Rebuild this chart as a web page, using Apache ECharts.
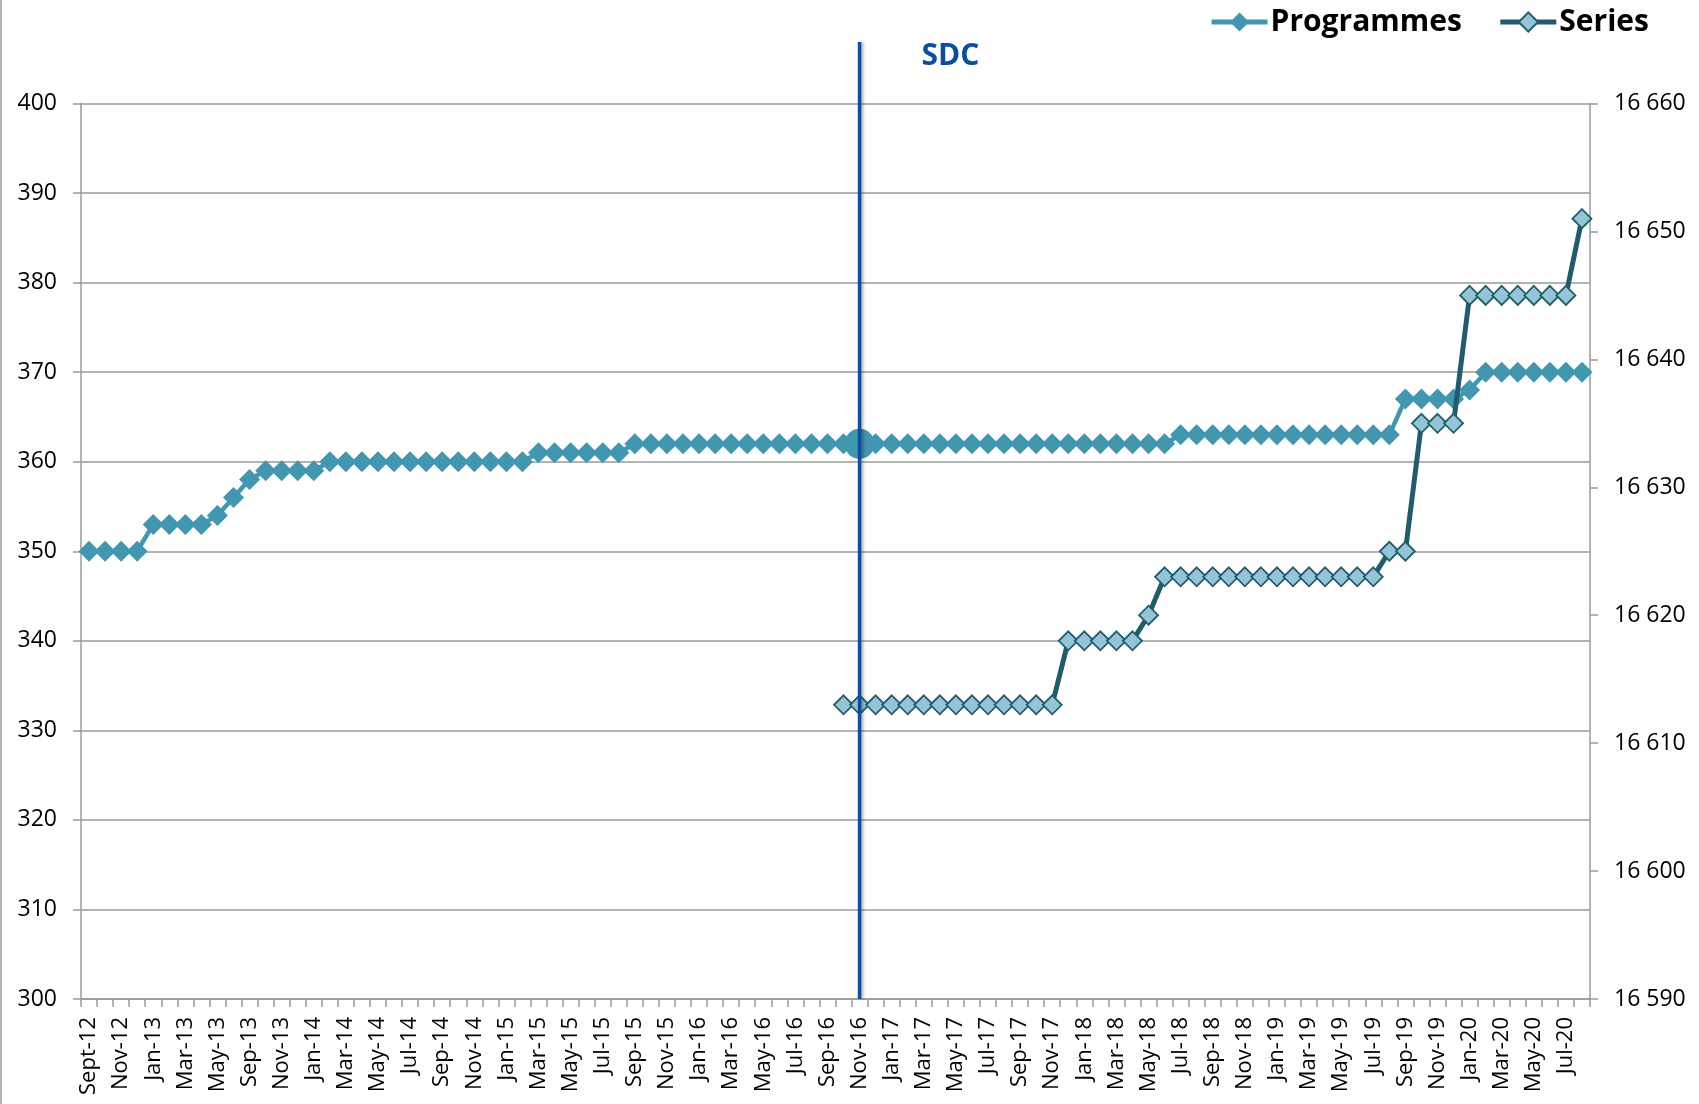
<!DOCTYPE html>
<html>
<head>
<meta charset="utf-8">
<title>Programmes / Series</title>
<script src="https://cdn.jsdelivr.net/npm/echarts@6/dist/echarts.min.js"></script>
<style>
  html, body { margin: 0; padding: 0; background: #fff; }
  #chart { width: 1699px; height: 1104px; }
</style>
</head>
<body>
<div id="chart"></div>
<script>
// categories (one month is missing in mid 2013)
const categories = [
  'Sept-12', 'Oct-12', 'Nov-12', 'Dec-12',
  'Jan-13', 'Feb-13', 'Mar-13', 'Apr-13', 'May-13', 'Jul-13', 'Sep-13', 'Oct-13', 'Nov-13', 'Dec-13',
  'Jan-14', 'Feb-14', 'Mar-14', 'Apr-14', 'May-14', 'Jun-14', 'Jul-14', 'Aug-14', 'Sep-14', 'Oct-14', 'Nov-14', 'Dec-14',
  'Jan-15', 'Feb-15', 'Mar-15', 'Apr-15', 'May-15', 'Jun-15', 'Jul-15', 'Aug-15', 'Sep-15', 'Oct-15', 'Nov-15', 'Dec-15',
  'Jan-16', 'Feb-16', 'Mar-16', 'Apr-16', 'May-16', 'Jun-16', 'Jul-16', 'Aug-16', 'Sep-16', 'Oct-16', 'Nov-16', 'Dec-16',
  'Jan-17', 'Feb-17', 'Mar-17', 'Apr-17', 'May-17', 'Jun-17', 'Jul-17', 'Aug-17', 'Sep-17', 'Oct-17', 'Nov-17', 'Dec-17',
  'Jan-18', 'Feb-18', 'Mar-18', 'Apr-18', 'May-18', 'Jun-18', 'Jul-18', 'Aug-18', 'Sep-18', 'Oct-18', 'Nov-18', 'Dec-18',
  'Jan-19', 'Feb-19', 'Mar-19', 'Apr-19', 'May-19', 'Jun-19', 'Jul-19', 'Aug-19', 'Sep-19', 'Oct-19', 'Nov-19', 'Dec-19',
  'Jan-20', 'Feb-20', 'Mar-20', 'Apr-20', 'May-20', 'Jun-20', 'Jul-20', 'Aug-20'
];

// Programmes (left axis), one value per category
const programmes = [
  350, 350, 350, 350, 353, 353, 353, 353, 354, 356, 358, 359, 359, 359, 359,
  360, 360, 360, 360, 360, 360, 360, 360, 360, 360, 360, 360, 360,
  361, 361, 361, 361, 361, 361,
  362, 362, 362, 362, 362, 362, 362, 362, 362, 362,
  362, 362, 362, 362, 362, 362, 362, 362, 362, 362,
  362, 362, 362, 362, 362, 362, 362, 362, 362, 362,
  362, 362, 362, 362,
  363, 363, 363, 363, 363, 363, 363, 363, 363, 363, 363, 363, 363, 363,
  367, 367, 367, 367, 368,
  370, 370, 370, 370, 370, 370, 370
];

// Series (right axis), starts in Oct-16
const seriesStart = 'Oct-16';
const seriesValues = [
  16613, 16613, 16613, 16613, 16613, 16613, 16613, 16613, 16613, 16613, 16613, 16613, 16613, 16613,
  16618, 16618, 16618, 16618, 16618, 16620,
  16623, 16623, 16623, 16623, 16623, 16623, 16623, 16623, 16623, 16623, 16623, 16623, 16623, 16623,
  16625, 16625, 16635, 16635, 16635,
  16645, 16645, 16645, 16645, 16645, 16645, 16645, 16651
];

// axis ranges
const leftMin = 300, leftMax = 400, leftStep = 10;
const rightMin = 16590, rightMax = 16660, rightStep = 10;

// SDC marker
const sdcMonth = 'Nov-16';
const sdcLabel = 'SDC';

(function () {
  const font = 'Open Sans';
  const gray = '#9a9a9a';
  const progColor = '#4197b0';
  const serLine = '#215c6c';
  const serFill = '#93c5d6';
  const sdcColor = '#0b4f9c';

  const myChart = echarts.init(document.getElementById('chart'), null, { renderer: 'canvas' });

  const sdcIndex = categories.indexOf(sdcMonth);
  const progData = programmes.map(function (v, i) {
    return i === sdcIndex ? { value: v, symbol: 'circle', symbolSize: 30 } : v;
  });
  const startIdx = categories.indexOf(seriesStart);
  const serData = seriesValues.map(function (v, i) {
    return [categories[startIdx + i], v];
  });

  const spaceThousands = function (v) {
    return String(v).replace(/\B(?=(\d{3})+(?!\d))/g, ' ');
  };

  const option = {
    backgroundColor: '#fff',
    animation: false,
    grid: { left: 81, right: 109, top: 103.5, bottom: 105, containLabel: false },
    legend: {
      data: ['Programmes', 'Series'],
      top: 2,
      right: 45,
      itemWidth: 56,
      itemHeight: 24,
      itemGap: 36,
      lineStyle: { width: 5 },
      textStyle: { fontFamily: font, fontWeight: 'bold', fontSize: 30, color: '#000', padding: [0, 0, 0, -2] }
    },
    xAxis: {
      type: 'category',
      data: categories,
      boundaryGap: true,
      axisLine: { show: true, lineStyle: { color: gray, width: 1.5 } },
      axisTick: { show: true, interval: 0, length: 8, lineStyle: { color: gray, width: 1.5 } },
      axisLabel: { interval: 1, rotate: 90, margin: 18, fontFamily: font, fontSize: 22, color: '#000' },
      splitLine: { show: false }
    },
    yAxis: [
      {
        type: 'value',
        min: leftMin,
        max: leftMax,
        interval: leftStep,
        axisLine: { show: true, lineStyle: { color: gray, width: 1.5 } },
        axisTick: { show: true, length: 8, lineStyle: { color: gray, width: 1.5 } },
        axisLabel: { margin: 24, fontFamily: font, fontSize: 23, color: '#000' },
        splitLine: { show: true, lineStyle: { color: gray, width: 1.5 } }
      },
      {
        type: 'value',
        position: 'right',
        min: rightMin,
        max: rightMax,
        interval: rightStep,
        axisLine: { show: true, lineStyle: { color: gray, width: 1.5 } },
        axisTick: { show: true, length: 8, lineStyle: { color: gray, width: 1.5 } },
        axisLabel: { margin: 24, fontFamily: font, fontSize: 23, color: '#000', formatter: spaceThousands },
        splitLine: { show: false }
      }
    ],
    series: [
      {
        name: 'Programmes',
        type: 'line',
        yAxisIndex: 0,
        data: progData,
        symbol: 'diamond',
        symbolSize: 21,
        showAllSymbol: true,
        lineStyle: { color: progColor, width: 4.5 },
        itemStyle: { color: progColor },
        z: 2
      },
      {
        name: 'Series',
        type: 'line',
        yAxisIndex: 1,
        data: serData,
        symbol: 'diamond',
        symbolSize: 19,
        showAllSymbol: true,
        lineStyle: { color: serLine, width: 5 },
        itemStyle: { color: serFill, borderColor: serLine, borderWidth: 1.8 },
        z: 3
      }
    ]
  };

  myChart.setOption(option);

  // vertical SDC line, placed from the category axis
  const lineX = myChart.convertToPixel({ xAxisIndex: 0 }, sdcMonth);
  const lineBottom = myChart.convertToPixel({ yAxisIndex: 0 }, leftMin);
  myChart.setOption({
    graphic: [
      {
        type: 'line',
        shape: { x1: 1, y1: 0, x2: 1, y2: 1104 },
        style: { stroke: gray, lineWidth: 1.5 },
        silent: true
      },
      {
        type: 'line',
        shape: { x1: lineX, y1: 42, x2: lineX, y2: lineBottom },
        style: {
          stroke: sdcColor, lineWidth: 3.5,
          shadowBlur: 3, shadowOffsetX: 2, shadowColor: 'rgba(0,0,0,0.3)'
        },
        z: 100
      },
      {
        type: 'text',
        x: lineX + 62,
        y: 56,
        style: {
          text: sdcLabel,
          fill: sdcColor,
          font: 'bold 30px "Open Sans"',
          textAlign: 'left',
          textVerticalAlign: 'middle'
        },
        z: 100
      }
    ]
  });

  window.addEventListener('resize', function () {
    myChart.resize();
  });
})();
</script>
</body>
</html>
